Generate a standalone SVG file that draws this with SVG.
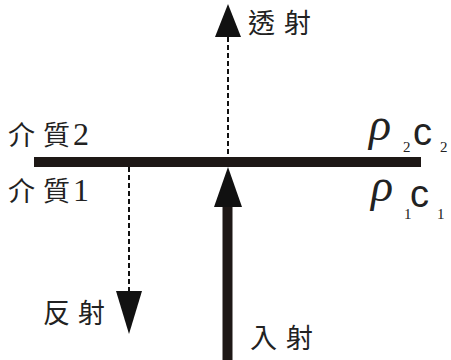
<svg xmlns="http://www.w3.org/2000/svg" width="451" height="360" viewBox="0 0 451 360">
<style>
.cjk{font-family:"Noto Sans CJK TC","Noto Sans CJK JP",sans-serif;font-size:27px;fill:#222}
.num{font-family:"Liberation Serif",serif;font-size:32px;fill:#222}
.rho{font-family:"Liberation Serif",serif;font-style:italic;font-size:46px;fill:#222}
.c{font-family:"Liberation Sans",sans-serif;font-size:38px;fill:#222}
.sub{font-family:"Liberation Serif",serif;font-size:15px;fill:#222}
.dash{stroke:#111;stroke-width:2;stroke-dasharray:5 3;fill:none}
.head{fill:#111}
</style>
<rect width="451" height="360" fill="#fff"/>
<g id="connectors">
<line class="dash" x1="228" y1="37" x2="228" y2="158"/>
<polygon class="head" points="228,4 241,37 215,37"/>
<line class="dash" x1="129" y1="167" x2="129" y2="292"/>
<polygon class="head" points="129,334 142,291 116,291"/>
<rect x="222.5" y="205" width="10" height="155" fill="#1e1816"/>
<polygon class="head" points="228,167 242,207 214,207"/>
</g>
<g id="interface">
<rect x="34" y="157" width="387" height="10" fill="#1e1816"/>
</g>
<g id="medium2">
<text class="cjk" x="8" y="145">介</text>
<text class="cjk" x="43" y="145">質</text>
<text class="num" x="73" y="145">2</text>
</g>
<g id="medium1">
<text class="cjk" x="8" y="201">介</text>
<text class="cjk" x="43" y="201">質</text>
<text class="num" x="73" y="201">1</text>
</g>
<g id="rho2c2">
<text class="rho" x="369" y="140">ρ</text>
<text class="sub" x="403" y="152">2</text>
<text class="c" x="413" y="145">c</text>
<text class="sub" x="440" y="152">2</text>
</g>
<g id="rho1c1">
<text class="rho" x="371" y="201">ρ</text>
<text class="sub" x="404" y="219">1</text>
<text class="c" x="410" y="207">c</text>
<text class="sub" x="437" y="219">1</text>
</g>
<g id="transmit"><text class="cjk" x="248" y="33">透</text><text class="cjk" x="284" y="33">射</text></g>
<g id="reflect"><text class="cjk" x="43" y="323">反</text><text class="cjk" x="78" y="323">射</text></g>
<g id="incident"><text class="cjk" x="250" y="348">入</text><text class="cjk" x="286" y="348">射</text></g>
</svg>
